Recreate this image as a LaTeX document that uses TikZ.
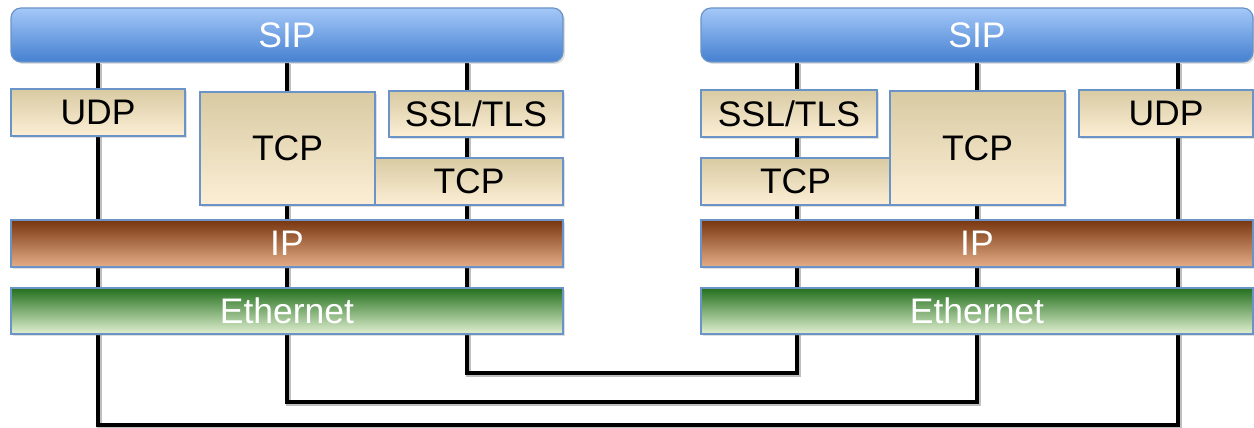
\documentclass[tikz,border=0pt]{standalone}
\usepackage{fontspec}
\setmainfont{Liberation Sans}
\usetikzlibrary{shadows}

\pgfdeclarelayer{background}
\pgfsetlayers{background,main}

\definecolor{edgeblue}{HTML}{6A94C8}
\definecolor{siptop}{HTML}{A4C8F8}
\definecolor{sipbot}{HTML}{4580D0}
\definecolor{tantop}{HTML}{D8CAA2}
\definecolor{tanmid}{HTML}{F0E6CC}
\definecolor{tanbot}{HTML}{FCEFD6}
\definecolor{iptop}{HTML}{78360F}
\definecolor{ipmid}{HTML}{B86434}
\definecolor{ipbot}{HTML}{E4AE88}
\definecolor{ethtop}{HTML}{23701D}
\definecolor{ethmid}{HTML}{8DB26A}
\definecolor{ethbot}{HTML}{E2F0D2}

\tikzset{
  layer/.style={draw=edgeblue, line width=1.2pt, inner sep=0pt, anchor=center,
    font=\fontsize{35.5}{42}\selectfont,
    drop shadow={opacity=0.25, shadow xshift=2pt, shadow yshift=-2pt}},
  sipbox/.style={layer, rounded corners=10pt, text=white,
    top color=siptop, bottom color=sipbot},
  tanbox/.style={layer, text=black,
    top color=tantop, middle color=tanmid, bottom color=tanbot},
  ipbox/.style={layer, text=white,
    top color=iptop, middle color=ipmid, bottom color=ipbot},
  ethbox/.style={layer, text=white,
    top color=ethtop, middle color=ethmid, bottom color=ethbot},
  wire/.style={line width=4.5pt, black,
    preaction={draw=black!25, line width=4.5pt,
      transform canvas={xshift=1.5pt, yshift=-1.5pt}}}
}

\begin{document}
\begin{tikzpicture}[x=1pt, y=-1pt]
\useasboundingbox (0,0) rectangle (1254,428);

% lane positions and turning points of the three links
\coordinate (l1) at (98,0);   \coordinate (r1) at (1178,0);
\coordinate (l2) at (287,0);  \coordinate (r2) at (977,0);
\coordinate (l3) at (467,0);  \coordinate (r3) at (797,0);
\coordinate (y1) at (0,425);
\coordinate (y2) at (0,402);
\coordinate (y3) at (0,373);

% ---- left protocol stack ----
\node[sipbox, minimum width=552pt, minimum height=54pt] (sipL) at (287,35) {SIP};
\node[tanbox, minimum width=174pt, minimum height=47pt] (udpL) at (98,112.5) {UDP};
\node[tanbox, minimum width=175pt, minimum height=113pt] (tcpaL) at (287.5,148.5) {TCP};
\node[tanbox, minimum width=174pt, minimum height=46pt] (sslL) at (476,114) {SSL/TLS};
\node[tanbox, minimum width=188pt, minimum height=47pt] (tcpbL) at (469,181.5) {TCP};
\node[ipbox, minimum width=552pt, minimum height=47pt] (ipL) at (287,243.5) {IP};
\node[ethbox, minimum width=552pt, minimum height=46pt] (ethL) at (287,311) {Ethernet};

% ---- right protocol stack ----
\node[sipbox, minimum width=552pt, minimum height=54pt] (sipR) at (977,35) {SIP};
\node[tanbox, minimum width=176pt, minimum height=47pt] (sslR) at (789,113.5) {SSL/TLS};
\node[tanbox, minimum width=189pt, minimum height=47pt] (tcpbR) at (795.5,181.5) {TCP};
\node[tanbox, minimum width=175pt, minimum height=114pt] (tcpaR) at (977.5,148) {TCP};
\node[tanbox, minimum width=174pt, minimum height=47pt] (udpR) at (1166,113.5) {UDP};
\node[ipbox, minimum width=552pt, minimum height=47pt] (ipR) at (977,243.5) {IP};
\node[ethbox, minimum width=552pt, minimum height=46pt] (ethR) at (977,311) {Ethernet};

% ---- links between the two stacks, running behind the boxes ----
\begin{pgfonlayer}{background}
\draw[wire] (l1 |- sipL.south) -- (l1 |- y1) -- (r1 |- y1) -- (r1 |- sipR.south);
\draw[wire] (l2 |- sipL.south) -- (l2 |- y2) -- (r2 |- y2) -- (r2 |- sipR.south);
\draw[wire] (l3 |- sipL.south) -- (l3 |- y3) -- (r3 |- y3) -- (r3 |- sipR.south);
\end{pgfonlayer}
\end{tikzpicture}
\end{document}
